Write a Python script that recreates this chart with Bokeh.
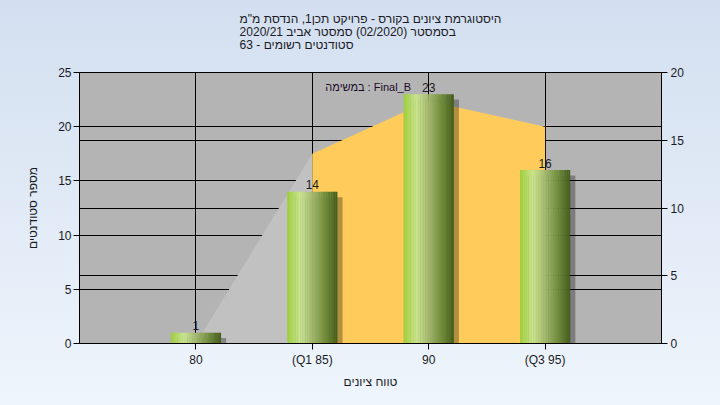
import numpy as np
from bokeh.plotting import figure
from bokeh.models import Range1d, LinearAxis, FixedTicker, Label, Grid
from bokeh.embed import file_html
from bokeh.resources import INLINE
from bokeh.core.properties import value

# ---------------- data ----------------
title_lines = ['היסטוגרמת ציונים בקורס - פרויקט תכן1, הנדסת מ"מ',
               "בסמסטר  (02/2020)  סמסטר אביב 2020/21",
               "סטודנטים רשומים - 63"]
categories = ["80", "(Q1 85)", "90", "(Q3 95)"]
counts = [1, 14, 23, 16]
curve = [0, 14, 17.9, 16]          # shaded area, right axis
y_label = "מספר סטודנטים"
x_label = "טווח ציונים"
legend_text = "במשימה : Final_B"
left_ticks = [0, 5, 10, 15, 20, 25]
right_ticks = [0, 5, 10, 15, 20]

FONT = "Liberation Sans, DejaVu Sans"
TXT = "#1a1a24"
xs = list(range(len(categories)))

p = figure(width=720, height=405, output_backend="svg", toolbar_location=None,
           x_range=Range1d(-1, 4), y_range=Range1d(0, 25),
           min_border_left=79, min_border_right=59, min_border_top=72, min_border_bottom=62)
p.extra_y_ranges = {"right": Range1d(0, 20)}

p.background_fill_color = "#b4b4b4"
p.border_fill_color = None
p.outline_line_color = "black"
p.outline_line_width = 1

try:
    from bokeh.models import GlobalInlineStyleSheet
    p.stylesheets = [GlobalInlineStyleSheet(
        css="html{min-height:100%;background:linear-gradient(to bottom,#d3dff0,#eef5fc) no-repeat;}"
            "body{background:transparent;overflow:hidden;}")]
except Exception:
    p.border_fill_color = "#e1eaf6"

# title (a trailing blank line keeps the text block clear of the frame)
p.title.text = "\n".join(title_lines) + "\n "
p.title.align = "center"
p.title.vertical_align = "bottom"
p.title.text_font = FONT
p.title.text_font_size = "12px"
p.title.text_font_style = "normal"
p.title.text_color = TXT
p.title.text_line_height = 0.95
p.title.standoff = 14

# axes
right_axis = LinearAxis(y_range_name="right", ticker=FixedTicker(ticks=right_ticks))
p.add_layout(right_axis, "right")
p.yaxis[0].ticker = FixedTicker(ticks=left_ticks)
p.xaxis[0].ticker = FixedTicker(ticks=xs)
p.xaxis[0].major_label_overrides = {i: c for i, c in zip(xs, categories)}
p.xaxis[0].axis_label = x_label
p.yaxis[0].axis_label = y_label

for ax in [p.xaxis[0], p.yaxis[0], right_axis]:
    ax.major_tick_out = 6
    ax.major_tick_in = 0
    ax.minor_tick_line_color = None
    ax.axis_line_color = "black"
    ax.major_tick_line_color = "black"
    ax.major_label_text_font = FONT
    ax.major_label_text_font_size = "12px"
    ax.major_label_text_color = TXT
    ax.axis_label_text_font = FONT
    ax.axis_label_text_font_size = "12px"
    ax.axis_label_text_font_style = "normal"
    ax.axis_label_text_color = TXT
p.yaxis[0].major_label_standoff = 2
right_axis.major_label_standoff = 3
p.xaxis[0].major_label_standoff = 3
p.yaxis[0].axis_label_standoff = 15
p.xaxis[0].axis_label_standoff = 5

# grids
p.xgrid.ticker = FixedTicker(ticks=xs)
p.ygrid.ticker = FixedTicker(ticks=left_ticks[1:-1])
for g in [p.xgrid[0], p.ygrid[0]]:
    g.grid_line_color = "black"
    g.grid_line_width = 1
p.add_layout(Grid(dimension=1, ticker=FixedTicker(ticks=right_ticks[1:-1]), y_range_name="right",
                  grid_line_color="black", grid_line_width=1))

# shaded area (right axis)
p.varea(x=xs[0:2], y1=[0, 0], y2=curve[0:2], y_range_name="right", fill_color="#c1c1c1")
p.varea(x=xs[1:], y1=[0] * len(xs[1:]), y2=curve[1:], y_range_name="right", fill_color="#ffcc5c")

# bars: shadow + cylinder gradient made of thin strips
w = 0.43
p.vbar(x=[x + 0.045 for x in xs], top=[c - 0.5 for c in counts], bottom=0, width=w,
       fill_color="black", fill_alpha=0.3, line_color=None)

stops = [(0.0, (159, 207, 63)), (0.25, (201, 229, 143)), (0.5, (163, 184, 112)),
         (0.75, (115, 144, 62)), (1.0, (71, 95, 30))]

def grad(t):
    for (t0, c0), (t1, c1) in zip(stops[:-1], stops[1:]):
        if t <= t1:
            f = (t - t0) / (t1 - t0)
            return "#%02x%02x%02x" % tuple(int(round(a + (b - a) * f)) for a, b in zip(c0, c1))
    return "#%02x%02x%02x" % stops[-1][1]

N = 30
sx, st, sc = [], [], []
for x, c in zip(xs, counts):
    for k in range(N):
        sx.append(x - w / 2 + (k + 0.5) * w / N)
        st.append(c)
        sc.append(grad(k / (N - 1)))
p.vbar(x=sx, top=st, bottom=0, width=w / N * 1.15, fill_color=sc, line_color=None)

# value labels
p.text(x=xs, y=counts, text=[str(c) for c in counts], text_align="center",
       text_baseline="alphabetic", y_offset=-7, text_font=value(FONT),
       text_font_size="12px", text_color=TXT)

# legend-like text
p.add_layout(Label(x=1.48, y=25, y_offset=-14, text=legend_text, text_align="center",
                   text_baseline="middle", text_font=FONT, text_font_size="11px",
                   text_color="#200a2a"))

open("out.html", "w").write(file_html(p, INLINE))
